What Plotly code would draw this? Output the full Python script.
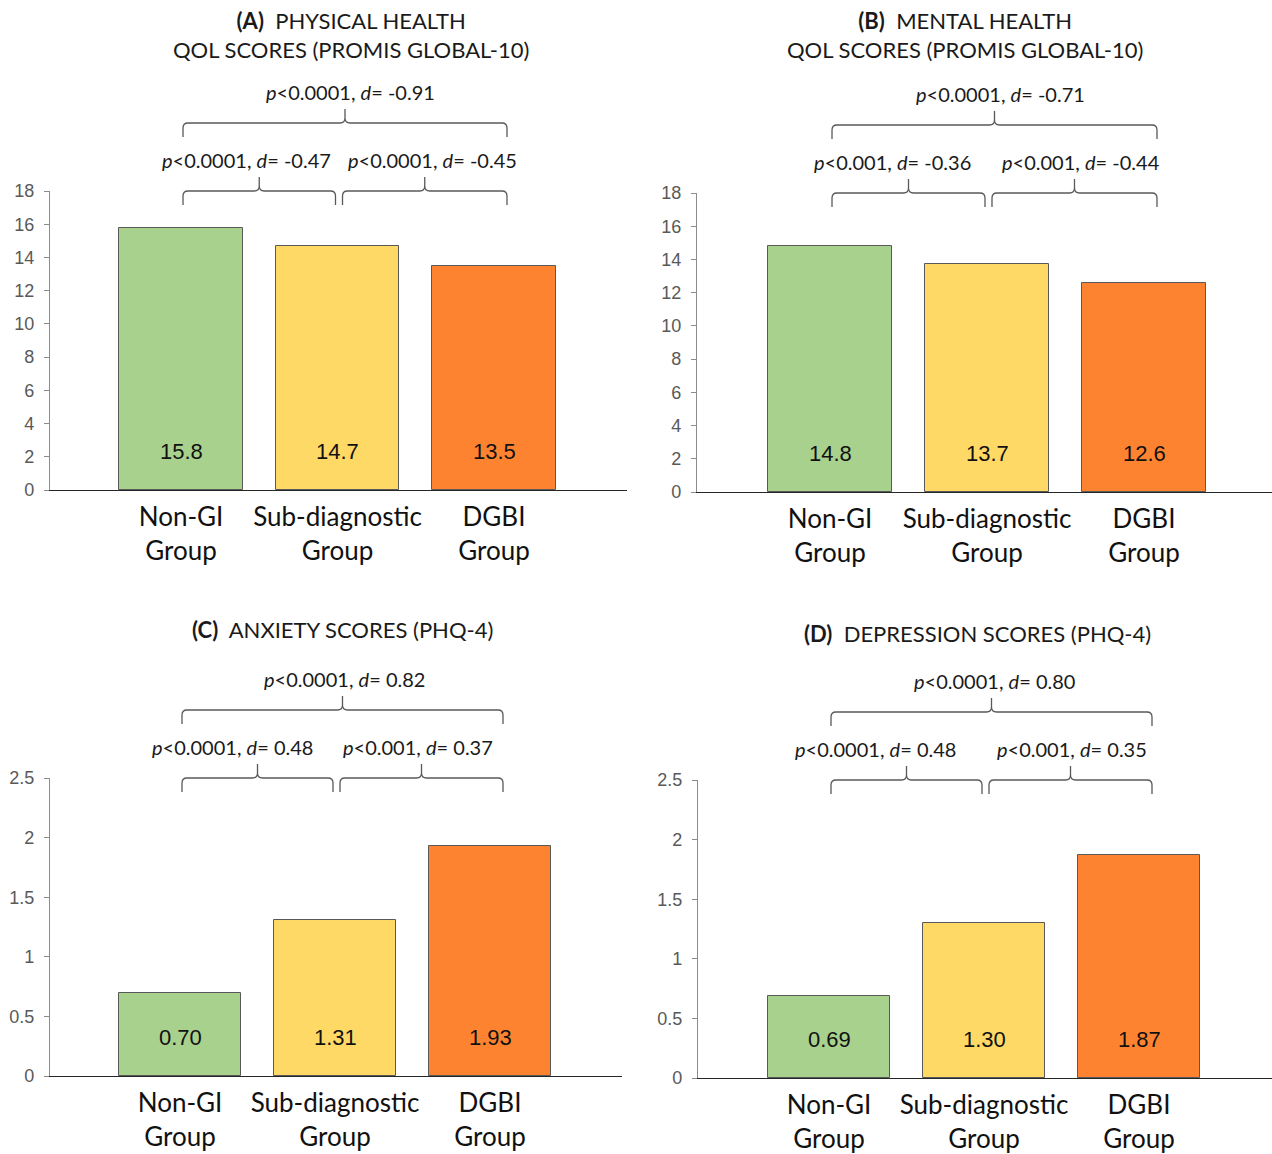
import plotly.graph_objects as go

# ---------------- data ----------------
categories = ["Non-GI<br>Group", "Sub-diagnostic<br>Group", "DGBI<br>Group"]
bar_colors = ["#A9D18E", "#FFD966", "#FE8330"]

phys_values = [15.8, 14.7, 13.5]
mental_values = [14.8, 13.7, 12.6]
anxiety_values = [0.70, 1.31, 1.93]
depression_values = [0.69, 1.30, 1.87]

phys_comparisons = [(0, 1, "0.0001", "-0.47"), (1, 2, "0.0001", "-0.45"), (0, 2, "0.0001", "-0.91")]
mental_comparisons = [(0, 1, "0.001", "-0.36"), (1, 2, "0.001", "-0.44"), (0, 2, "0.0001", "-0.71")]
anxiety_comparisons = [(0, 1, "0.0001", "0.48"), (1, 2, "0.001", "0.37"), (0, 2, "0.0001", "0.82")]
depression_comparisons = [(0, 1, "0.0001", "0.48"), (1, 2, "0.001", "0.35"), (0, 2, "0.0001", "0.80")]

titles = [
    "<b>(A)</b>&nbsp;&nbsp;PHYSICAL HEALTH<br>QOL SCORES (PROMIS GLOBAL-10)",
    "<b>(B)</b>&nbsp;&nbsp;MENTAL HEALTH<br>QOL SCORES (PROMIS GLOBAL-10)",
    "<b>(C)</b>&nbsp;&nbsp;ANXIETY SCORES (PHQ-4)",
    "<b>(D)</b>&nbsp;&nbsp;DEPRESSION SCORES (PHQ-4)",
]
y_max = [18, 18, 2.5, 2.5]
y_dtick = [2, 2, 0.5, 0.5]
label_fmt = ["{:.1f}", "{:.1f}", "{:.2f}", "{:.2f}"]

# ---------------- layout geometry (pixels) ----------------
W, H = 1272, 1154
# rendering calibration: paper area observed at rows 10..1144
Y_OFF, Y_SPAN = 10, 1134

geom = [
    dict(L=50, R=627, T=191, B=490, c0=181, s=156.5, title=(351, 35), lbl_dx=(-13, 8, 5)),
    dict(L=697, R=1272, T=193, B=492, c0=830, s=157, title=(965, 35), lbl_dx=(-16, 6, 6)),
    dict(L=50, R=622, T=778, B=1076, c0=180, s=155, title=(342, 629), lbl_dx=(-25, -4, 2)),
    dict(L=698, R=1272, T=780, B=1078, c0=829, s=155, title=(977, 633), lbl_dx=(-31, 1, 3)),
]

FONT_TXT = "Lato"
FONT_NUM = "Liberation Sans, Arial"
GRAY = "#595959"

panels = [
    (phys_values, phys_comparisons),
    (mental_values, mental_comparisons),
    (anxiety_values, anxiety_comparisons),
    (depression_values, depression_comparisons),
]


def px_x(p):
    return p / W


def px_y(p):
    return 1 - (p - Y_OFF) / Y_SPAN


fig = go.Figure()
shapes = []
annotations = []

for k, ((values, comps), g) in enumerate(zip(panels, geom)):
    n = k + 1
    xa = "x" if n == 1 else f"x{n}"
    ya = "y" if n == 1 else f"y{n}"
    r0 = (g["L"] - g["c0"]) / g["s"]
    r1 = (g["R"] - g["c0"]) / g["s"]

    fig.add_trace(go.Bar(
        x=list(range(len(categories))), y=values,
        marker=dict(color=bar_colors, line=dict(color=GRAY, width=1)),
        width=0.79, xaxis=xa, yaxis=ya, showlegend=False, hoverinfo="skip",
    ))

    fig.layout[f"xaxis{'' if n == 1 else n}"] = dict(
        domain=[px_x(g["L"]), px_x(g["R"])], range=[r0, r1], anchor=ya,
        tickmode="array", tickvals=list(range(len(categories))), ticktext=categories,
        tickfont=dict(family=FONT_TXT, size=26, color="#111111"),
        showline=True, linecolor="#262626", linewidth=1.3, ticks="",
        ticklabelstandoff=4,
        showgrid=False, zeroline=False, fixedrange=True,
    )
    fig.layout[f"yaxis{'' if n == 1 else n}"] = dict(
        domain=[px_y(g["B"]), px_y(g["T"])], range=[0, y_max[k]], anchor=xa,
        dtick=y_dtick[k], tick0=0,
        tickfont=dict(family=FONT_NUM, size=18, color=GRAY),
        showline=True, linecolor="#8c8c8c", linewidth=1.2,
        ticks="outside", ticklen=5, tickcolor="#8c8c8c", ticklabelstandoff=6,
        showgrid=False, zeroline=False, fixedrange=True,
    )

    # value labels inside bars
    for i, v in enumerate(values):
        annotations.append(dict(
            x=i, y=0, xref=xa, yref=ya, yshift=39, yanchor="middle",
            text=label_fmt[k].format(v), showarrow=False,
            font=dict(family=FONT_NUM, size=22, color="#111111"),
        ))

    # title
    annotations.append(dict(
        x=px_x(g["title"][0]), y=px_y(g["title"][1]),
        xref="paper", yref="paper", xanchor="center", yanchor="middle",
        text=titles[k], showarrow=False, align="center",
        font=dict(family=FONT_TXT, size=22, color="#1a1a1a"),
    ))

    def cpx(i):
        return g["L"] + (i - r0) / (r1 - r0) * (g["R"] - g["L"])

    for idx, (i, j, p, d) in enumerate(comps):
        x0 = cpx(i) + (2 if i == 0 else 5)
        x1 = cpx(j) + (-2 if j == 1 else 13)
        if j - i == 1:
            yh = g["T"]
        else:
            yh = g["T"] - 68
        yend, ytip, r = yh + 14, yh - 14, 5
        xm = (x0 + x1) / 2
        pts = [
            ("M", [(x0, yend)]), ("L", [(x0, yh + r)]), ("Q", [(x0, yh), (x0 + r, yh)]),
            ("L", [(xm - r, yh)]), ("Q", [(xm, yh), (xm, yh - r)]), ("L", [(xm, ytip)]),
            ("M", [(xm, yh - r)]), ("Q", [(xm, yh), (xm + r, yh)]),
            ("L", [(x1 - r, yh)]), ("Q", [(x1, yh), (x1, yh + r)]), ("L", [(x1, yend)]),
        ]
        path = " ".join(
            cmd + " " + " ".join(f"{px_x(a):.5f},{px_y(b):.5f}" for a, b in coords)
            for cmd, coords in pts
        )
        shapes.append(dict(type="path", path=path, xref="paper", yref="paper",
                           line=dict(color=GRAY, width=1.3)))
        annotations.append(dict(
            x=px_x(xm + g["lbl_dx"][idx]), y=px_y(yh - 31), xref="paper", yref="paper",
            xanchor="center", yanchor="middle", showarrow=False,
            text=f"<i>p</i>&lt;{p}, <i>d</i>= {d}",
            font=dict(family=FONT_TXT, size=20, color="#1a1a1a"),
        ))

fig.update_layout(
    width=W, height=H, margin=dict(l=0, r=0, t=0, b=0),
    paper_bgcolor="white", plot_bgcolor="white",
    shapes=shapes, annotations=annotations, bargap=0,
)

fig.write_html("out.html", config=dict(displayModeBar=False))
